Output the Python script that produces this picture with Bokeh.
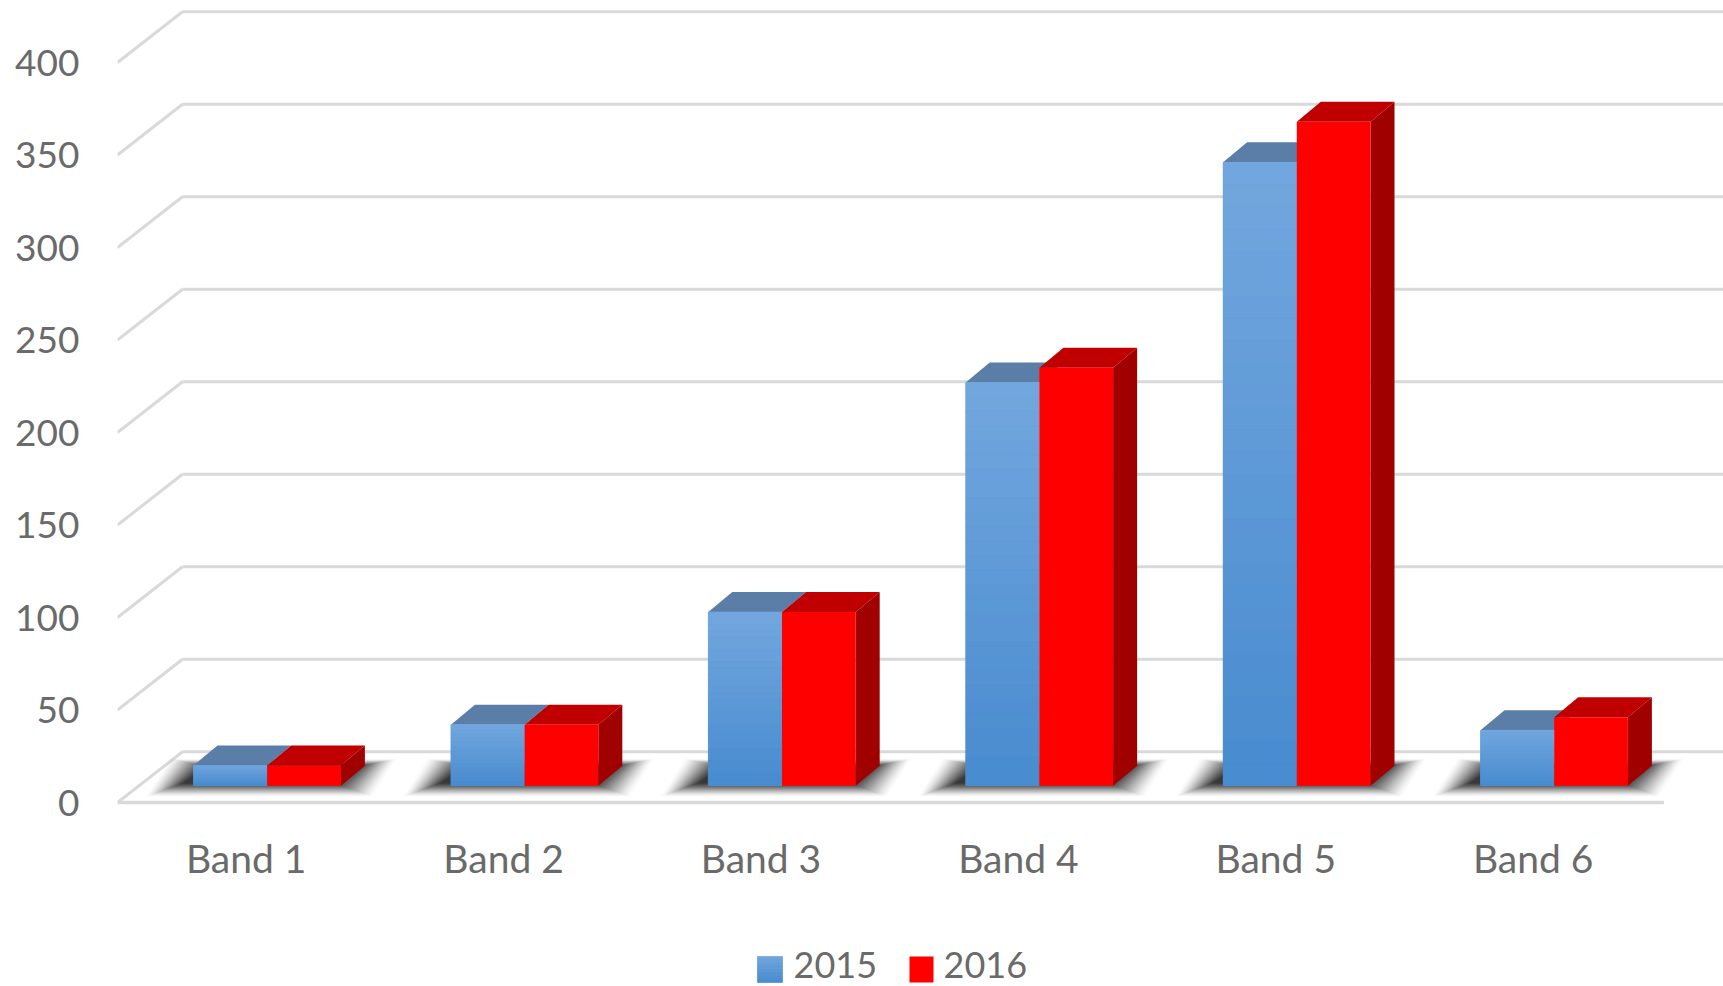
from bokeh.plotting import figure
from bokeh.layouts import column
from bokeh.models import FixedTicker, Range1d
from bokeh.core.properties import value
from bokeh.embed import file_html
from bokeh.resources import INLINE

bands = ["Band 1", "Band 2", "Band 3", "Band 4", "Band 5", "Band 6"]
values_2015 = [11, 33, 94, 218, 337, 30]
values_2016 = [11, 33, 94, 226, 359, 37]
y_ticks = [0, 50, 100, 150, 200, 250, 300, 350, 400]
series_names = ["2015", "2016"]

W, H = 1723, 916
LEGEND_H = 70
FONT = "Lato"
TEXT = "#6a6a6a"
GRID = "#d9d9d9"

PX_X = 257.4      # pixels per category
PX_Y = 1.85       # pixels per value unit
frame_left, frame_right = 117, W
frame_top, frame_bottom = 8, 812
zero_px_from_bottom = 10

p = figure(width=W, height=H, output_backend="svg", toolbar_location=None,
           min_border_left=frame_left, min_border_right=0, min_border_top=frame_top,
           min_border_bottom=H - frame_bottom, background_fill_color="white",
           border_fill_color="white", outline_line_color=None,
           x_range=Range1d(0, (frame_right - frame_left) / PX_X),
           y_range=Range1d(-zero_px_from_bottom / PX_Y,
                           (frame_bottom - frame_top - zero_px_from_bottom) / PX_Y))
p.grid.visible = False

def dx(px):
    return px / PX_X

def dy(px):
    return px / PX_Y

# oblique projection of the chart box
wall_dx, wall_dy = dx(65), dy(50.7)
bar_dx0, bar_dy0 = dx(21), dy(16.7)     # front of the bars on the floor
top_dx, top_dy = dx(24), dy(20)         # depth of the bars
bar_w = dx(73.7)
n_bands = len(bands)

# wall, grid and floor
p.segment(x0=[wall_dx] * len(y_ticks), y0=[t + wall_dy for t in y_ticks],
          x1=[(frame_right - frame_left) / PX_X] * len(y_ticks),
          y1=[t + wall_dy for t in y_ticks], line_color=GRID, line_width=3)
p.segment(x0=[0] * len(y_ticks), y0=y_ticks, x1=[wall_dx] * len(y_ticks),
          y1=[t + wall_dy for t in y_ticks], line_color=GRID, line_width=3)
p.segment(x0=[0], y0=[0], x1=[n_bands + dx(2)], y1=[0], line_color=GRID, line_width=3.4)

# soft shadow on the floor: stacked translucent parallelograms, denser towards the bars
for m in range(30, -9, -1):
    xs, ys = [], []
    for i in range(n_bands):
        xc = i + 0.5 + bar_dx0
        l, r = xc - bar_w - dx(18 + m), xc + bar_w + dx(m + 2)
        y0, y1 = bar_dy0 - dy(m * 0.36), bar_dy0 + top_dy + dy(m * 0.2 + 1)
        xs.append([l, r, r + top_dx, l + top_dx])
        ys.append([y0, y0, y1, y1])
    p.patches(xs, ys, fill_color="#000000", line_color=None,
              fill_alpha=0.008 + 0.055 * (30 - m) / 38)

STEPS = 28
TOP_RGB, BOTTOM_RGB = (115, 167, 222), (72, 139, 207)

def mix(t):
    return "#%02x%02x%02x" % tuple(round(a + (b - a) * t) for a, b in zip(TOP_RGB, BOTTOM_RGB))

def gradient_bar(fig, left, right, bottom, top, steps):
    fig.quad(left=[left], right=[right], bottom=[bottom], top=[top],
             fill_color="#5b99d6", line_color=None)
    for k in range(steps):
        t0, t1 = k / steps, (k + 1) / steps
        c = mix((t0 + t1) / 2)
        fig.quad(left=[left], right=[right], top=[top - (top - bottom) * t0],
                 bottom=[top - (top - bottom) * t1], fill_color=c,
                 line_color=c, line_width=0.5)

for i, (v15, v16) in enumerate(zip(values_2015, values_2016)):
    xc = i + 0.5 + bar_dx0
    b = bar_dy0
    # 2015 top face and front
    p.patch([xc - bar_w, xc, xc + top_dx, xc - bar_w + top_dx],
            [b + v15, b + v15, b + v15 + top_dy, b + v15 + top_dy],
            fill_color="#5a7ea8", line_color=None)
    gradient_bar(p, xc - bar_w, xc, b, b + v15, STEPS)
    # 2016 top, side and front
    p.patch([xc, xc + bar_w, xc + bar_w + top_dx, xc + top_dx],
            [b + v16, b + v16, b + v16 + top_dy, b + v16 + top_dy],
            fill_color="#c00000", line_color=None)
    p.patch([xc + bar_w, xc + bar_w + top_dx, xc + bar_w + top_dx, xc + bar_w],
            [b, b + top_dy, b + v16 + top_dy, b + v16],
            fill_color="#a00000", line_color=None)
    p.quad(left=[xc], right=[xc + bar_w], bottom=[b], top=[b + v16],
           fill_color="#ff0000", line_color=None)

# axes
yax = p.yaxis[0]
yax.ticker = FixedTicker(ticks=y_ticks)
yax.axis_line_color = None
yax.major_tick_line_color = None
yax.minor_tick_line_color = None
yax.major_label_standoff = 32
yax.major_label_text_font = FONT
yax.major_label_text_font_size = "37px"
yax.major_label_text_color = TEXT

xax = p.xaxis[0]
xax.ticker = FixedTicker(ticks=[i + 0.5 for i in range(n_bands)])
xax.major_label_overrides = {i + 0.5: b for i, b in enumerate(bands)}
xax.axis_line_color = None
xax.major_tick_line_color = None
xax.minor_tick_line_color = None
xax.major_label_standoff = 16
xax.major_label_text_font = FONT
xax.major_label_text_font_size = "39px"
xax.major_label_text_color = TEXT

# legend strip: a figure whose units are pixels (its frame lines up with the chart's)
leg = figure(width=W, height=LEGEND_H, output_backend="svg", toolbar_location=None,
             min_border=0, x_axis_type=None, y_axis_type=None, outline_line_color=None,
             x_range=Range1d(frame_left, W), y_range=Range1d(0, LEGEND_H),
             background_fill_color="white", border_fill_color="white")
leg.grid.visible = False
gradient_bar(leg, 757, 782, 4, 30, 8)
leg.quad(left=[909], right=[933], bottom=[4], top=[30], fill_color="#ff0000", line_color=None)
leg.text(x=[793, 943], y=[22, 22], text=series_names, text_font=value(FONT),
         text_font_size="36px", text_color=TEXT, text_baseline="middle", text_align="left")

layout = column(p, leg, spacing=0)
open("out.html", "w").write(file_html(layout, INLINE))
